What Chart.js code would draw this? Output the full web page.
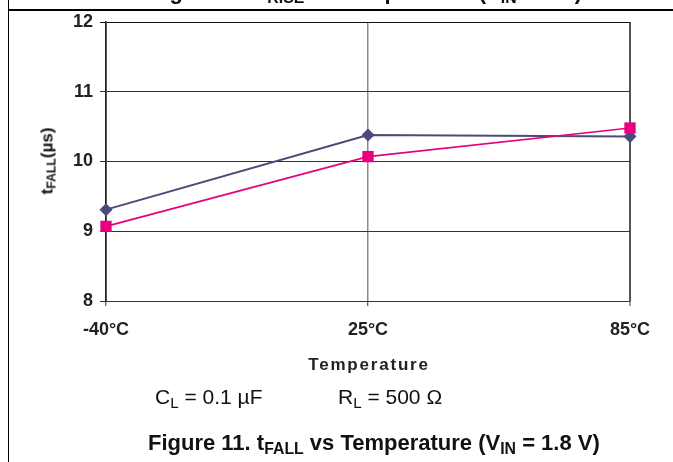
<!DOCTYPE html>
<html><head><meta charset="utf-8">
<script src="https://cdn.jsdelivr.net/npm/chart.js@4.4.1/dist/chart.umd.min.js"></script>
<style>
html,body{margin:0;padding:0;background:#fff;}
#wrap{position:relative;width:673px;height:462px;overflow:hidden;font-family:"Liberation Sans",Arial,sans-serif;color:#111;}
canvas{position:absolute;left:0;top:0;}
.t{position:absolute;white-space:nowrap;line-height:1;}
sub{font-size:72%;vertical-align:-0.28em;line-height:0;}
</style></head><body>
<div id="wrap">
<canvas id="c" width="673" height="462"></canvas>
<div style="position:absolute;left:7.5px;top:0;width:1.5px;height:462px;background:#000"></div>
<div style="position:absolute;left:8px;top:9px;width:665px;height:1.5px;background:#000"></div>
<div class="t" style="left:150px;top:-19px;font-size:22px;font-weight:bold">Figure 10. t<sub>RISE</sub> vs Temperature (V<sub>IN</sub> = 5 V)</div>
<div class="t" style="left:47px;top:161px;font-size:17px;font-weight:bold;transform:translate(-50%,-50%) rotate(-90deg);">t<sub>FALL</sub>(µs)</div>
<div class="t" style="left:369px;top:356px;font-size:17px;font-weight:bold;letter-spacing:1.8px;transform:translateX(-50%);color:#222">Temperature</div>
<div class="t" style="left:155px;top:385.5px;font-size:21px;">C<sub>L</sub> = 0.1 µF</div>
<div class="t" style="left:338px;top:385.5px;font-size:21px;">R<sub>L</sub> = 500 Ω</div>
<div class="t" style="left:148px;top:432px;font-size:22px;font-weight:bold">Figure 11. t<sub>FALL</sub> vs Temperature (V<sub>IN</sub> = 1.8 V)</div>
</div>
<script>
const categories = ['-40°C', '25°C', '85°C'];
const seriesDiamond = [9.31, 10.38, 10.36];
const seriesSquare = [9.07, 10.07, 10.48];
const yTicks = [8, 9, 10, 11, 12];

const tickFont = {family: '"Liberation Sans", Arial, sans-serif', size: 18, weight: 'bold'};

new Chart(document.getElementById('c').getContext('2d'), {
  type: 'line',
  data: {
    labels: categories,
    datasets: [
      {data: seriesSquare, borderColor: '#E8007F', backgroundColor: '#E8007F', borderWidth: 1.6,
       pointStyle: 'rect', pointRadius: 8, pointBorderWidth: 0, tension: 0, clip: false},
      {data: seriesDiamond, borderColor: '#4A4A7C', backgroundColor: '#4A4A7C', borderWidth: 2,
       pointStyle: 'rectRot', pointRadius: 6.5, pointBorderWidth: 0, tension: 0, clip: false}
    ]
  },
  options: {
    responsive: false, devicePixelRatio: 1, animation: false,
    layout: {padding: {left: 0, top: 22, right: 43, bottom: 0}},
    plugins: {legend: {display: false}, tooltip: {enabled: false}},
    scales: {
      x: {
        type: 'category', offset: false,
        afterFit(s) { s.height = 161; },
        grid: {
          color: c => c.index === 1 ? '#8a8a8a' : (c.index === 2 ? '#555' : '#222'),
          lineWidth: c => c.index === 1 ? 1.5 : (c.index === 2 ? 2 : 1.5),
          tickLength: 5, tickColor: '#333', tickWidth: 1
        },
        border: {display: true, color: '#333', width: 1},
        ticks: {padding: 13, font: tickFont, color: '#222', maxRotation: 0, autoSkip: false}
      },
      y: {
        min: 8, max: 12,
        afterFit(s) { s.width = 106; },
        afterBuildTicks(s) { s.ticks = yTicks.map(v => ({value: v})); },
        grid: {color: c => c.tick && c.tick.value === 12 ? '#111' : '#333', lineWidth: 1, tickLength: 6},
        border: {display: true, color: '#222', width: 1.5},
        ticks: {padding: 7, font: tickFont, color: '#222'}
      }
    }
  }
});
</script>
</body></html>
